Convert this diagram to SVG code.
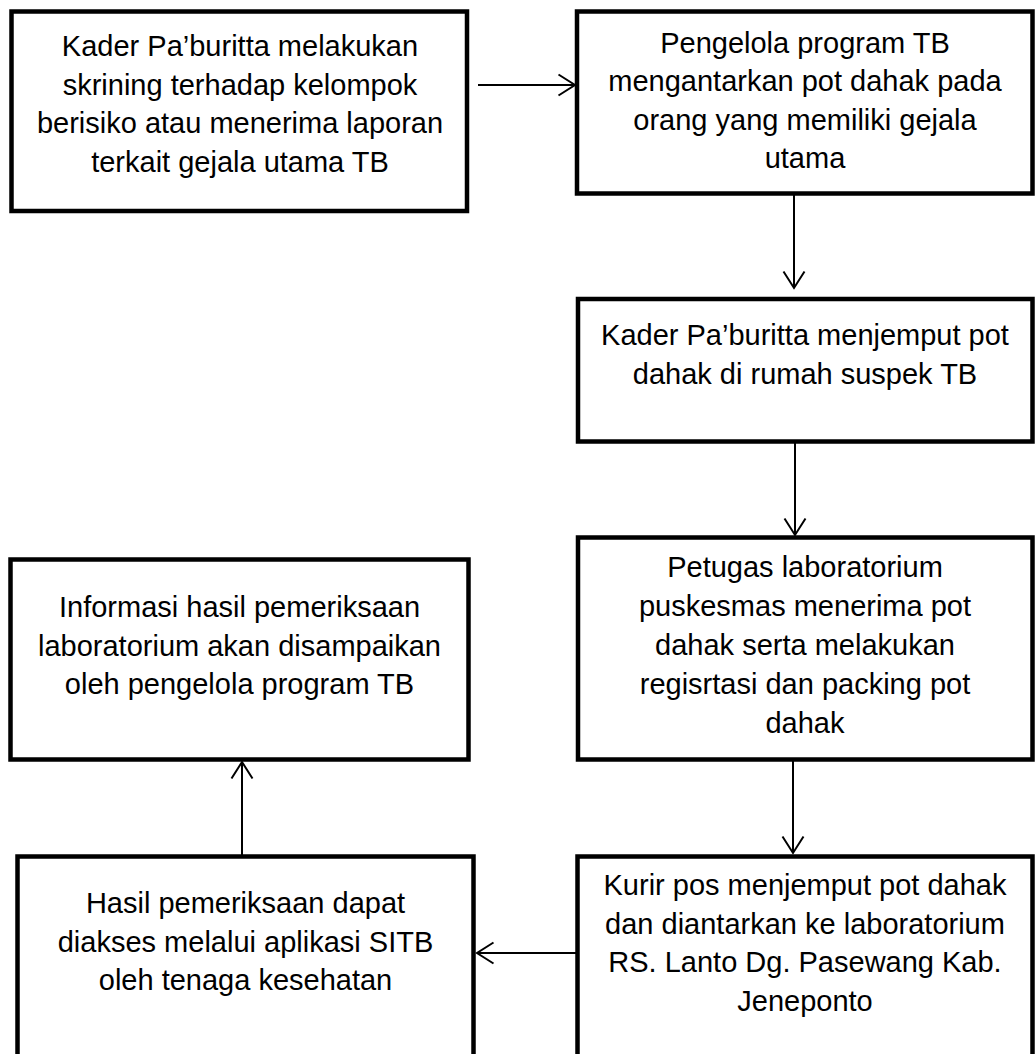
<svg xmlns="http://www.w3.org/2000/svg" width="1035" height="1054" viewBox="0 0 1035 1054">
<style>
.box{fill:#fff;stroke:#000;stroke-width:4.5;stroke-linejoin:miter}
.lbl{font-family:"Liberation Sans",Arial,sans-serif;font-size:29px;fill:#000;text-anchor:middle}
.conn{stroke:#000;stroke-width:2;fill:none}
</style>
<defs>
<marker id="arr" markerUnits="userSpaceOnUse" markerWidth="24" markerHeight="26" refX="18" refY="12" orient="auto" viewBox="0 0 24 26">
<path d="M1.5,1.5 L18,12 L1.5,22.5" fill="none" stroke="#000" stroke-width="2"/>
</marker>
</defs>
<rect width="1035" height="1054" fill="#fff"/>
<g id="connectors">
<line class="conn" x1="478" y1="85" x2="575" y2="85" marker-end="url(#arr)"/>
<line class="conn" x1="794" y1="195" x2="794" y2="288" marker-end="url(#arr)"/>
<line class="conn" x1="795" y1="442" x2="795" y2="535" marker-end="url(#arr)"/>
<line class="conn" x1="793" y1="760" x2="793" y2="853" marker-end="url(#arr)"/>
<line class="conn" x1="242" y1="856" x2="242" y2="762" marker-end="url(#arr)"/>
<line class="conn" x1="577" y1="953" x2="477" y2="953" marker-end="url(#arr)"/>
</g>
<g id="node1">
<rect class="box" x="11.5" y="11.5" width="455.5" height="199.5"/>
<text class="lbl" x="240"><tspan x="240" y="56">Kader Pa’buritta melakukan</tspan><tspan x="240" y="94.6">skrining terhadap kelompok</tspan><tspan x="240" y="133.2">berisiko atau menerima laporan</tspan><tspan x="240" y="171.8">terkait gejala utama TB</tspan></text>
</g>
<g id="node2">
<rect class="box" x="577" y="11.5" width="455.5" height="182"/>
<text class="lbl"><tspan x="805" y="52.5">Pengelola program TB</tspan><tspan x="805" y="91">mengantarkan pot dahak pada</tspan><tspan x="805" y="129.5">orang yang memiliki gejala</tspan><tspan x="805" y="168">utama</tspan></text>
</g>
<g id="node3">
<rect class="box" x="578" y="299" width="454.5" height="142.5"/>
<text class="lbl"><tspan x="805" y="345">Kader Pa’buritta menjemput pot</tspan><tspan x="805" y="384">dahak di rumah suspek TB</tspan></text>
</g>
<g id="node4">
<rect class="box" x="578" y="537.5" width="454.5" height="222"/>
<text class="lbl"><tspan x="805" y="577">Petugas laboratorium</tspan><tspan x="805" y="616">puskesmas menerima pot</tspan><tspan x="805" y="655">dahak serta melakukan</tspan><tspan x="805" y="694">regisrtasi dan packing pot</tspan><tspan x="805" y="733">dahak</tspan></text>
</g>
<g id="node5">
<rect class="box" x="10.5" y="559.5" width="458" height="200"/>
<text class="lbl"><tspan x="239.5" y="617">Informasi hasil pemeriksaan</tspan><tspan x="239.5" y="655.5">laboratorium akan disampaikan</tspan><tspan x="239.5" y="694">oleh pengelola program TB</tspan></text>
</g>
<g id="node6">
<rect class="box" x="17.5" y="856.5" width="456" height="230"/>
<text class="lbl"><tspan x="245.5" y="913">Hasil pemeriksaan dapat</tspan><tspan x="245.5" y="951.5">diakses melalui aplikasi SITB</tspan><tspan x="245.5" y="990">oleh tenaga kesehatan</tspan></text>
</g>
<g id="node7">
<rect class="box" x="577.5" y="856.5" width="455" height="230"/>
<text class="lbl"><tspan x="805" y="895">Kurir pos menjemput pot dahak</tspan><tspan x="805" y="933.5">dan diantarkan ke laboratorium</tspan><tspan x="805" y="972">RS. Lanto Dg. Pasewang Kab.</tspan><tspan x="805" y="1010.5">Jeneponto</tspan></text>
</g>
</svg>
